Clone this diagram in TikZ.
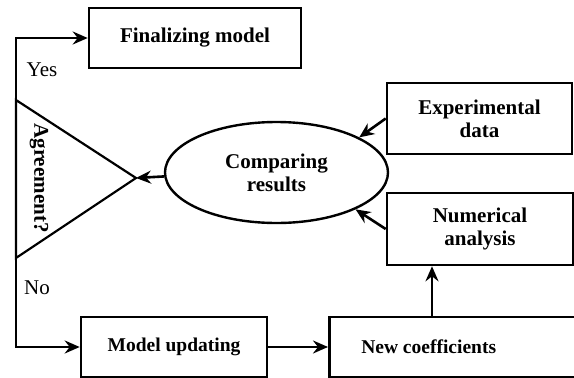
\documentclass[tikz,border=0pt]{standalone}
\usepackage{fontspec}
\setmainfont{Liberation Serif}
\usetikzlibrary{shapes.geometric,arrows.meta,calc}
\begin{document}
\begin{tikzpicture}[x=1pt,y=-1pt,
  box/.style={draw,line width=2.6pt,rectangle,inner sep=0pt,font=\bfseries\fontsize{21}{23}\selectfont,align=center},
  smallbox/.style={box,font=\bfseries\fontsize{19.5}{22}\selectfont},
  arr/.style={line width=2.6pt,-{Stealth[length=15pt,width=13pt,inset=5pt]}},
  lbl/.style={font=\fontsize{21}{23}\selectfont},
  blbl/.style={font=\bfseries\fontsize{21}{23}\selectfont}]
\useasboundingbox (0,0) rectangle (574,378);
\node[box,minimum width=212pt,minimum height=60pt] (fin) at (195,38) {Finalizing model};
\node[box,minimum width=185pt,minimum height=71pt] (exp) at (479.5,118.5) {Experimental\\data};
\node[box,minimum width=186pt,minimum height=72pt] (num) at (480,229) {Numerical\\analysis};
\node[smallbox,minimum width=186pt,minimum height=60pt] (mod) at (174,347) {Model updating};
\node[smallbox,minimum height=60pt,anchor=west] (newc) at (328,347) {\makebox[252pt][l]{\hspace{32pt}New coefficients}};
\node[draw,ellipse,line width=2.4pt,minimum width=223pt,minimum height=101pt,inner sep=0pt,blbl,align=center] (ell) at (276.5,172.5) {Comparing\\results};
\coordinate (tA) at (16,100);
\coordinate (tB) at (16,258);
\coordinate (tC) at (136,178);
\draw[line width=2.2pt,line join=miter] (tA) -- (tC) -- (tB) -- cycle;
\node[blbl,rotate=-90] (agr) at (39,178) {Agreement?};
\node[lbl] (yes) at (42,70) {Yes};
\node[lbl] (no) at (37,288) {No};
\coordinate (nx) at (432,0);
\draw[arr] (tA) |- (fin.west);
\draw[arr] (tB) |- (mod.west);
\draw[arr] (mod.east) -- (newc.west);
\draw[arr] (ell.182) -- (tC);
\draw[arr] (exp.west) -- (ell.23);
\draw[arr] (num.west) -- (ell.-25);
\draw[arr] (newc.north -| nx) -- (num.south -| nx);
\end{tikzpicture}
\end{document}
